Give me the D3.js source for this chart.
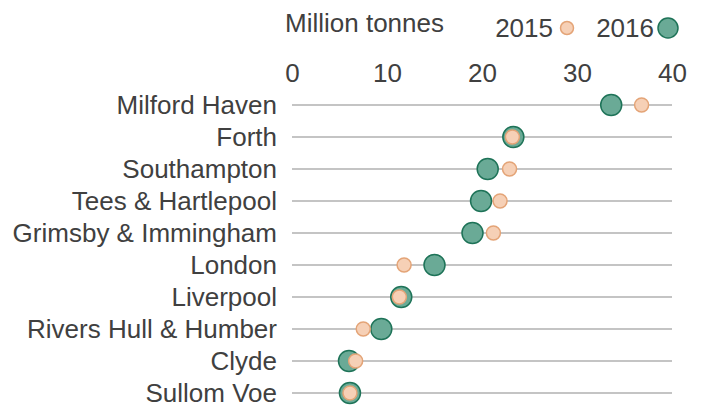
<!DOCTYPE html>
<html>
<head>
<meta charset="utf-8">
<script src="https://cdn.jsdelivr.net/npm/d3@7"></script>
<style>
  body { margin: 0; background: #fff; }
  text { font-family: "Liberation Sans", Arial, sans-serif; fill: #404040; }
</style>
</head>
<body>
<div id="chart"></div>
<script>
// Data
let ports = ["Milford Haven", "Forth", "Southampton", "Tees & Hartlepool", "Grimsby & Immingham",
    "London", "Liverpool", "Rivers Hull & Humber", "Clyde", "Sullom Voe"];
let values2015 = [36.8, 23.2, 22.9, 21.9, 21.2, 11.8, 11.3, 7.5, 6.7, 6.1];
let values2016 = [33.6, 23.3, 20.6, 19.9, 19.0, 15.0, 11.5, 9.4, 6.0, 6.1];
let xTicks = [0, 10, 20, 30, 40];

let width = 702, height = 405;
let fontSize = "26px";

let svg = d3.select("#chart")
    .append("svg")
    .attr("width", width)
    .attr("height", height);

let x = d3.scaleLinear()
    .domain([0, 40])
    .range([292, 672]);

let y = d3.scalePoint()
    .domain(ports)
    .range([105, 393]);

// Axis on top (labels only)
let xAxis = svg.append("g")
    .attr("transform", "translate(0, 82)")
    .call(d3.axisTop(x).tickValues(xTicks).tickSize(0).tickPadding(0));
xAxis.select(".domain").remove();
xAxis.selectAll("text")
    .style("font-size", fontSize)
    .style("font-family", "Liberation Sans, Arial, sans-serif")
    .attr("fill", "#404040");

// Unit label
svg.append("text")
    .attr("x", 285)
    .attr("y", 32)
    .style("font-size", fontSize)
    .text("Million tonnes");

// Legend
svg.append("text")
    .attr("x", 553)
    .attr("y", 37)
    .style("text-anchor", "end")
    .style("font-size", fontSize)
    .text("2015");
svg.append("circle")
    .attr("cx", 567).attr("cy", 28).attr("r", 6.5)
    .attr("fill", "#f6d0b6").attr("stroke", "#e4a477").attr("stroke-width", 1.5);
svg.append("text")
    .attr("x", 654)
    .attr("y", 37)
    .style("text-anchor", "end")
    .style("font-size", fontSize)
    .text("2016");
svg.append("circle")
    .attr("cx", 668).attr("cy", 28).attr("r", 10)
    .attr("fill", "#6aaa96").attr("stroke", "#1e7358").attr("stroke-width", 1.5);

// Y axis labels
let yAxis = svg.append("g")
    .attr("transform", "translate(277, 0)")
    .call(d3.axisLeft(y).tickSize(0).tickPadding(0));
yAxis.select(".domain").remove();
yAxis.selectAll("text")
    .style("font-size", fontSize)
    .style("font-family", "Liberation Sans, Arial, sans-serif")
    .attr("fill", "#404040");

// Gridlines
svg.append("g")
    .selectAll("line")
    .data(ports)
    .enter().append("line")
    .attr("x1", x(0))
    .attr("x2", x(40))
    .attr("y1", d => y(d))
    .attr("y2", d => y(d))
    .attr("stroke", "#c4c4c4")
    .attr("stroke-width", 2);

// 2016 dots
svg.append("g")
    .selectAll("circle")
    .data(ports)
    .enter().append("circle")
    .attr("cx", (d, i) => x(values2016[i]))
    .attr("cy", d => y(d))
    .attr("r", 10.5)
    .attr("fill", "#6aaa96")
    .attr("stroke", "#1e7358")
    .attr("stroke-width", 1.5);

// 2015 dots
svg.append("g")
    .selectAll("circle")
    .data(ports)
    .enter().append("circle")
    .attr("cx", (d, i) => x(values2015[i]))
    .attr("cy", d => y(d))
    .attr("r", 7)
    .attr("fill", "#f6d0b6")
    .attr("stroke", "#e4a477")
    .attr("stroke-width", 1.5);
</script>
</body>
</html>
